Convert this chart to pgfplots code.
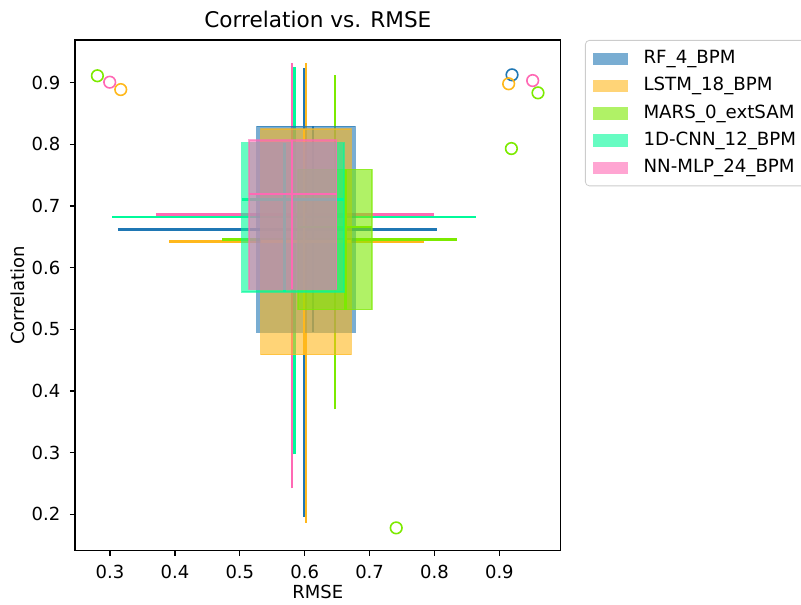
\documentclass[border=0pt]{standalone}
\usepackage{pgfplots}
\pgfplotsset{compat=1.18}
\usepackage{fontspec}
\setmainfont{DejaVu Sans}
\definecolor{cRF}{HTML}{1F77B4}
\definecolor{cLS}{HTML}{FFB81C}
\definecolor{cMA}{HTML}{7CEA00}
\definecolor{cCN}{HTML}{00FA9A}
\definecolor{cNN}{HTML}{FF69B4}
\pgfplotsset{
  boxst/.style={fill=#1, draw=#1, opacity=0.6, line width=0.7pt, forget plot},
  wh/.style={#1, line width=1.3pt, forget plot},
  outl/.style={only marks, mark=o, mark size=2.9pt, mark options={draw=#1, line width=0.8pt, fill=none}, forget plot},
  patchleg/.style={area legend, fill=#1!60!white, draw=#1!60!white, line width=0.2pt, sharp corners},
}
\begin{document}
\begin{tikzpicture}
\useasboundingbox (0,0) rectangle (400.5pt,302pt);
\begin{axis}[
  at={(37.5pt,26.65pt)}, anchor=south west,
  scale only axis, width=242.85pt, height=255.35pt,
  xmin=0.246, xmax=0.9945, ymin=0.141, ymax=0.969,
  xtick={0.3,0.4,0.5,0.6,0.7,0.8,0.9},
  ytick={0.2,0.3,0.4,0.5,0.6,0.7,0.8,0.9},
  tick align=outside, xtick pos=left, ytick pos=left,
  major tick length=2.6pt,
  axis line style={line width=0.6pt},
  every tick/.style={black, line width=0.6pt},
  tick label style={font=\fontsize{9}{10}\selectfont},
  xticklabel style={yshift=-1pt},
  yticklabel style={xshift=-1.2pt},
  /pgf/number format/.cd, fixed, fixed zerofill, precision=1, assume math mode=true, /pgfplots/.cd,
  title={Correlation vs. RMSE},
  title style={at={(axis description cs:0.5,1.0)}, anchor=base, font=\fontsize{10.8}{12}\selectfont},
  xlabel={RMSE},
  xlabel style={at={(axis description cs:0.5,-0.0936)}, anchor=base, font=\fontsize{9}{10}\selectfont},
  ylabel={Correlation},
  ylabel style={at={(axis description cs:-0.1174,0.5)}, anchor=center, font=\fontsize{9}{10}\selectfont},
  legend style={at={(1.05,1)}, anchor=north west, draw=black!20, rounded corners=2pt,
    font=\fontsize{9.1}{10}\selectfont, row sep=1.4pt, inner xsep=3.8pt, inner ysep=3pt,
    /tikz/every odd column/.append style={column sep=6pt}},
  legend cell align=left,
]
\addlegendimage{patchleg=cRF}\addlegendentry{RF\_4\_BPM}
\addlegendimage{patchleg=cLS}\addlegendentry{LSTM\_18\_BPM}
\addlegendimage{patchleg=cMA}\addlegendentry{MARS\_0\_extSAM}
\addlegendimage{patchleg=cCN}\addlegendentry{1D-CNN\_12\_BPM}
\addlegendimage{patchleg=cNN}\addlegendentry{NN-MLP\_24\_BPM}

% whiskers
\addplot[wh=cRF] coordinates {(0.312,0.662) (0.8035,0.662)};
\addplot[wh=cRF] coordinates {(0.5995,0.196) (0.5995,0.924)};
\addplot[wh=cLS] coordinates {(0.391,0.642) (0.7835,0.642)};
\addplot[wh=cLS] coordinates {(0.602,0.186) (0.602,0.9315)};
\addplot[wh=cMA] coordinates {(0.473,0.6457) (0.835,0.6457)};
\addplot[wh=cMA] coordinates {(0.6467,0.370) (0.6467,0.9125)};
\addplot[wh=cCN] coordinates {(0.3036,0.6817) (0.864,0.6817)};
\addplot[wh=cCN] coordinates {(0.5838,0.297) (0.5838,0.925)};
\addplot[wh=cNN] coordinates {(0.3708,0.6864) (0.800,0.6864)};
\addplot[wh=cNN] coordinates {(0.5805,0.242) (0.5805,0.932)};

% RF
\addplot[boxst=cRF] coordinates {(0.526,0.495) (0.678,0.495) (0.678,0.829) (0.526,0.829)} -- cycle;
\addplot[wh=cRF] coordinates {(0.613,0.495) (0.613,0.829)};
\addplot[wh=cRF] coordinates {(0.526,0.662) (0.678,0.662)};
\addplot[outl=cRF] coordinates {(0.9195,0.9125)};
% LSTM
\addplot[boxst=cLS] coordinates {(0.5323,0.459) (0.6718,0.459) (0.6718,0.825) (0.5323,0.825)} -- cycle;
\addplot[wh=cLS] coordinates {(0.599,0.459) (0.599,0.825)};
\addplot[wh=cLS] coordinates {(0.5323,0.642) (0.6718,0.642)};
\addplot[outl=cLS] coordinates {(0.3165,0.8886) (0.9143,0.898)};
% MARS
\addplot[boxst=cMA] coordinates {(0.5897,0.532) (0.7035,0.532) (0.7035,0.7594) (0.5897,0.7594)} -- cycle;
\addplot[wh=cMA] coordinates {(0.6626,0.532) (0.6626,0.7594)};
\addplot[wh=cMA] coordinates {(0.5897,0.666) (0.7035,0.666)};
\addplot[outl=cMA] coordinates {(0.2805,0.911) (0.9595,0.8833) (0.9185,0.793) (0.741,0.178)};
% 1D-CNN
\addplot[boxst=cCN] coordinates {(0.5026,0.5607) (0.6605,0.5607) (0.6605,0.8026) (0.5026,0.8026)} -- cycle;
\addplot[wh=cCN] coordinates {(0.569,0.5607) (0.569,0.8026)};
\addplot[wh=cCN] coordinates {(0.5026,0.7107) (0.6605,0.7107)};
% NN-MLP
\addplot[boxst=cNN] coordinates {(0.514,0.5646) (0.649,0.5646) (0.649,0.807) (0.514,0.807)} -- cycle;
\addplot[wh=cNN] coordinates {(0.5805,0.5646) (0.5805,0.807)};
\addplot[wh=cNN] coordinates {(0.514,0.719) (0.649,0.719)};
\addplot[outl=cNN] coordinates {(0.2995,0.9006) (0.9513,0.9032)};
\end{axis}
\end{tikzpicture}
\end{document}
